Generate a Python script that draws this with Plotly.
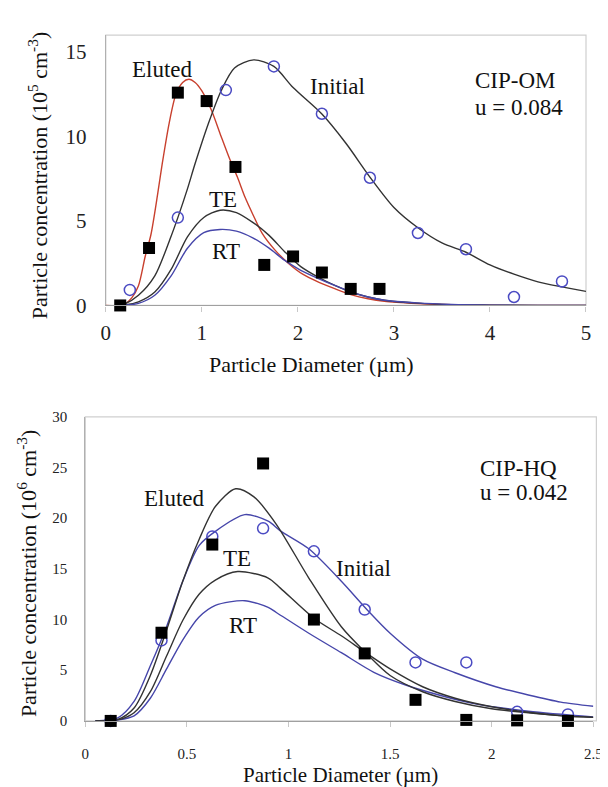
import plotly.graph_objects as go

W, H = 608, 787
FONT = "Liberation Serif, Times New Roman, Times, serif"

# ---------------- Top panel: CIP-OM ----------------
om_eluted_x = [0.15, 0.45, 0.75, 1.05, 1.35, 1.65, 1.95, 2.25, 2.55, 2.85]
om_eluted_y = [0.0, 3.4, 12.6, 12.1, 8.2, 2.4, 2.9, 1.95, 0.98, 0.98]
om_initial_x = [0.25, 0.75, 1.25, 1.75, 2.25, 2.75, 3.25, 3.75, 4.25, 4.75]
om_initial_y = [0.92, 5.2, 12.75, 14.15, 11.35, 7.56, 4.29, 3.33, 0.5, 1.42]

om_eluted_fit_x = [0, 0.15, 0.2, 0.27, 0.34, 0.41, 0.47, 0.54, 0.59, 0.66, 0.73, 0.80, 0.865, 0.93,
                   1.0, 1.10, 1.20, 1.29, 1.37, 1.45, 1.53, 1.63, 1.76, 1.90, 2.05, 2.22, 2.39,
                   2.56, 2.73, 2.90, 3.24, 3.6, 4.0, 4.5, 5.0]
om_eluted_fit_y = [0, 0, 0.1, 0.45, 1.17, 2.9, 4.2, 6.6, 8.48, 10.8, 12.5, 13.2, 13.39, 13.2,
                   12.7, 11.56, 10.02, 8.67, 7.6, 6.4, 5.4, 4.25, 3.29, 2.5, 1.85, 1.37, 0.98,
                   0.63, 0.4, 0.25, 0.12, 0.04, 0.01, 0, 0]

om_initial_fit_x = [0.1, 0.2, 0.34, 0.51, 0.68, 0.75, 0.85, 0.93, 1.07, 1.20, 1.34, 1.54, 1.75,
                    1.95, 2.25, 2.5, 2.75, 3.0, 3.25, 3.5, 3.75, 4.0, 4.25, 4.5, 4.75, 5.0]
om_initial_fit_y = [0, 0.1, 0.6, 1.75, 4.1, 5.2, 6.9, 8.4, 10.8, 12.7, 14.06, 14.54, 14.15,
                    12.9, 11.33, 9.6, 7.6, 5.8, 4.6, 3.7, 3.15, 2.4, 1.85, 1.4, 1.1, 0.83]

om_te_fit_x = [0.1, 0.2, 0.34, 0.51, 0.68, 0.85, 1.02, 1.19, 1.36, 1.53, 1.70, 1.86, 2.03, 2.22,
               2.39, 2.56, 2.73, 2.90, 3.24, 3.6, 4.0, 4.5, 5.0]
om_te_fit_y = [0, 0.03, 0.21, 0.79, 2.13, 4.06, 5.21, 5.64, 5.5, 4.92, 4.15, 3.2, 2.3, 1.65,
               1.17, 0.78, 0.5, 0.31, 0.14, 0.05, 0.02, 0, 0]
om_rt_fit_y = [0, 0.02, 0.12, 0.6, 1.75, 3.39, 4.31, 4.5, 4.40, 4.0, 3.39, 2.68, 2.08, 1.58,
               1.17, 0.79, 0.5, 0.31, 0.15, 0.06, 0.02, 0, 0]

# ---------------- Bottom panel: CIP-HQ ----------------
hq_x = [0.125, 0.375, 0.625, 0.875, 1.125, 1.375, 1.625, 1.875, 2.125, 2.375]
hq_eluted_y = [0.0, 8.7, 17.4, 25.4, 10.0, 6.66, 2.08, 0.1, 0.05, 0.0]
hq_initial_y = [0.0, 7.94, 18.2, 19.0, 16.73, 10.99, 5.77, 5.77, 0.9, 0.64]

hq_eluted_fit_x = [0.05, 0.16, 0.24, 0.32, 0.40, 0.48, 0.56, 0.64, 0.74, 0.83, 0.94, 1.10, 1.26,
                   1.38, 1.50, 1.66, 1.82, 2.0, 2.18, 2.35, 2.5]
hq_eluted_fit_y = [0, 0.15, 1.28, 4.48, 8.97, 13.8, 17.9, 21.15, 22.9, 22.1, 19.4, 14.1, 9.29,
                   6.73, 4.48, 2.88, 1.92, 1.2, 0.8, 0.5, 0.35]

hq_initial_fit_x = [0.05, 0.16, 0.24, 0.32, 0.40, 0.48, 0.56, 0.64, 0.785, 0.90, 0.96, 1.10, 1.26,
                    1.39, 1.50, 1.66, 1.82, 2.02, 2.18, 2.34, 2.5]
hq_initial_fit_y = [0, 0.3, 1.92, 5.44, 9.3, 13.8, 17.3, 18.7, 20.35, 19.7, 18.75, 16.98, 13.78,
                    10.9, 8.65, 6.09, 4.75, 3.37, 2.56, 1.86, 1.45]

hq_te_fit_x = [0.05, 0.16, 0.24, 0.32, 0.40, 0.48, 0.56, 0.64, 0.75, 0.90, 0.96, 1.127, 1.26,
               1.38, 1.50, 1.66, 1.82, 2.0, 2.18, 2.35, 2.5]
hq_te_fit_y = [0, 0.1, 0.8, 2.88, 6.4, 9.93, 12.5, 13.9, 14.74, 14.1, 13.1, 10.1, 8.4,
               6.73, 5.13, 3.37, 2.24, 1.4, 0.85, 0.5, 0.35]

hq_rt_fit_x = [0.05, 0.16, 0.24, 0.32, 0.40, 0.48, 0.56, 0.64, 0.785, 0.90, 0.94, 1.10, 1.26,
               1.42, 1.58, 1.74, 1.90, 2.18, 2.5]
hq_rt_fit_y = [0, 0.1, 0.5, 2.24, 5.13, 8.0, 10.25, 11.4, 11.86, 11.2, 10.7, 8.65, 6.73,
               4.8, 3.52, 2.56, 1.76, 0.96, 0.4]

# ---------------- styling ----------------
BLACK_LINE = "#333333"
BLUE_LINE = "#4646aa"
RED_LINE = "#c8402e"
BLUE_MARK = "#4b4bc3"


def px_x(p):
    return p / W


def px_y(p):
    return 1 - p / H


fig = go.Figure()


def line(x, y, color, xa, ya):
    fig.add_trace(go.Scatter(x=x, y=y, mode="lines", xaxis=xa, yaxis=ya,
                             line=dict(color=color, width=1.4, shape="spline", smoothing=0.8),
                             hoverinfo="skip", showlegend=False))


def squares(x, y, xa, ya):
    fig.add_trace(go.Scatter(x=x, y=y, mode="markers", xaxis=xa, yaxis=ya, cliponaxis=False,
                             marker=dict(symbol="square", size=12, color="black"),
                             showlegend=False))


def circles(x, y, xa, ya):
    fig.add_trace(go.Scatter(x=x, y=y, mode="markers", xaxis=xa, yaxis=ya, cliponaxis=False,
                             marker=dict(symbol="circle-open", size=11, color=BLUE_MARK,
                                         line=dict(width=1.5, color=BLUE_MARK)),
                             showlegend=False))


# top panel
line(om_eluted_fit_x, om_eluted_fit_y, RED_LINE, "x", "y")
line(om_initial_fit_x, om_initial_fit_y, BLACK_LINE, "x", "y")
line(om_te_fit_x, om_te_fit_y, BLACK_LINE, "x", "y")
line(om_te_fit_x, om_rt_fit_y, BLUE_LINE, "x", "y")
circles(om_initial_x, om_initial_y, "x", "y")
squares(om_eluted_x, om_eluted_y, "x", "y")

# bottom panel
line(hq_initial_fit_x, hq_initial_fit_y, BLUE_LINE, "x2", "y2")
line(hq_rt_fit_x, hq_rt_fit_y, BLUE_LINE, "x2", "y2")
line(hq_eluted_fit_x, hq_eluted_fit_y, BLACK_LINE, "x2", "y2")
line(hq_te_fit_x, hq_te_fit_y, BLACK_LINE, "x2", "y2")
circles(hq_x, hq_initial_y, "x2", "y2")
squares(hq_x, hq_eluted_y, "x2", "y2")

tickfont_top = dict(family=FONT, size=21, color="#222")
tickfont_bot = dict(family=FONT, size=15, color="#222")

axis_common = dict(showgrid=False, zeroline=False, showline=True, linewidth=1.2)

fig.update_layout(
    width=W, height=H,
    margin=dict(l=0, r=0, t=0, b=0),
    paper_bgcolor="white", plot_bgcolor="white",
    showlegend=False,
    font=dict(family=FONT),
    xaxis=dict(domain=[px_x(95), px_x(586.5)], range=[0, 5], anchor="y",
               tickvals=[0, 1, 2, 3, 4, 5], ticktext=["0", "1", "2", "3", "4", "5"],
               ticks="outside", ticklen=5, tickcolor="#c8c8c8", linecolor="#a0a0a0",
               tickfont=tickfont_top, ticklabelstandoff=3, **axis_common),
    yaxis=dict(domain=[px_y(297), px_y(19.7)], range=[0, 16], anchor="x",
               tickvals=[0, 5, 10, 15], ticks="", linecolor="#b0b0b0",
               tickfont=tickfont_top, ticklabelstandoff=14, **axis_common),
    xaxis2=dict(domain=[px_x(74), px_x(594)], range=[0, 2.5], anchor="y2",
                tickvals=[0, 0.5, 1, 1.5, 2, 2.5], ticktext=["0", "0.5", "1", "1.5", "2", "2.5"],
                ticks="outside", ticklen=5, tickcolor="#c8c8c8", linecolor="#a0a0a0",
                tickfont=tickfont_bot, ticklabelstandoff=14, **axis_common),
    yaxis2=dict(domain=[px_y(723.3), px_y(411.3)], range=[0, 30], anchor="x2",
                tickvals=[0, 5, 10, 15, 20, 25, 30], ticks="", linecolor="#b0b0b0",
                tickfont=tickfont_bot, ticklabelstandoff=14, **axis_common),
)

# light frame around each plot area
for xr, yr, right in (("x domain", "y domain", 1.0), ("x2 domain", "y2 domain", 1.006)):
    fig.add_shape(type="rect", xref=xr, yref=yr, x0=0, x1=right, y0=0, y1=1,
                  line=dict(color="#cfcfcf", width=1.2), fillcolor="rgba(0,0,0,0)", layer="below")


def label(text, x, y, size=23, anchor="center", angle=0):
    fig.add_annotation(text=text, x=px_x(x), y=px_y(y), xref="paper", yref="paper",
                       showarrow=False, xanchor=anchor, yanchor="middle", textangle=angle,
                       font=dict(family=FONT, size=size, color="#111"))


# top panel labels
label("Eluted", 153, 55)
label("Initial", 332, 72)
label("TE", 215, 188)
label("RT", 218, 242)
label("CIP-OM", 471, 66, anchor="left")
label("u = 0.084", 471, 94, anchor="left")
label("Particle concentration (10<sup>5</sup> cm<sup>-3</sup>)", 25, 163, size=22, angle=-90)
label("Particle Diameter (µm)", 305, 358, size=22)

# bottom panel labels
label("Eluted", 165, 495)
label("TE", 229, 557)
label("RT", 235, 625)
label("Initial", 359, 567)
label("CIP-HQ", 476, 464, anchor="left")
label("u = 0.042", 476, 489, anchor="left")
label("Particle concentration (10<sup>6</sup> cm<sup>-3</sup>)", 15, 572, size=22, angle=-90)
label("Particle Diameter (µm)", 335, 779, size=21)

fig.write_html("out.html")
